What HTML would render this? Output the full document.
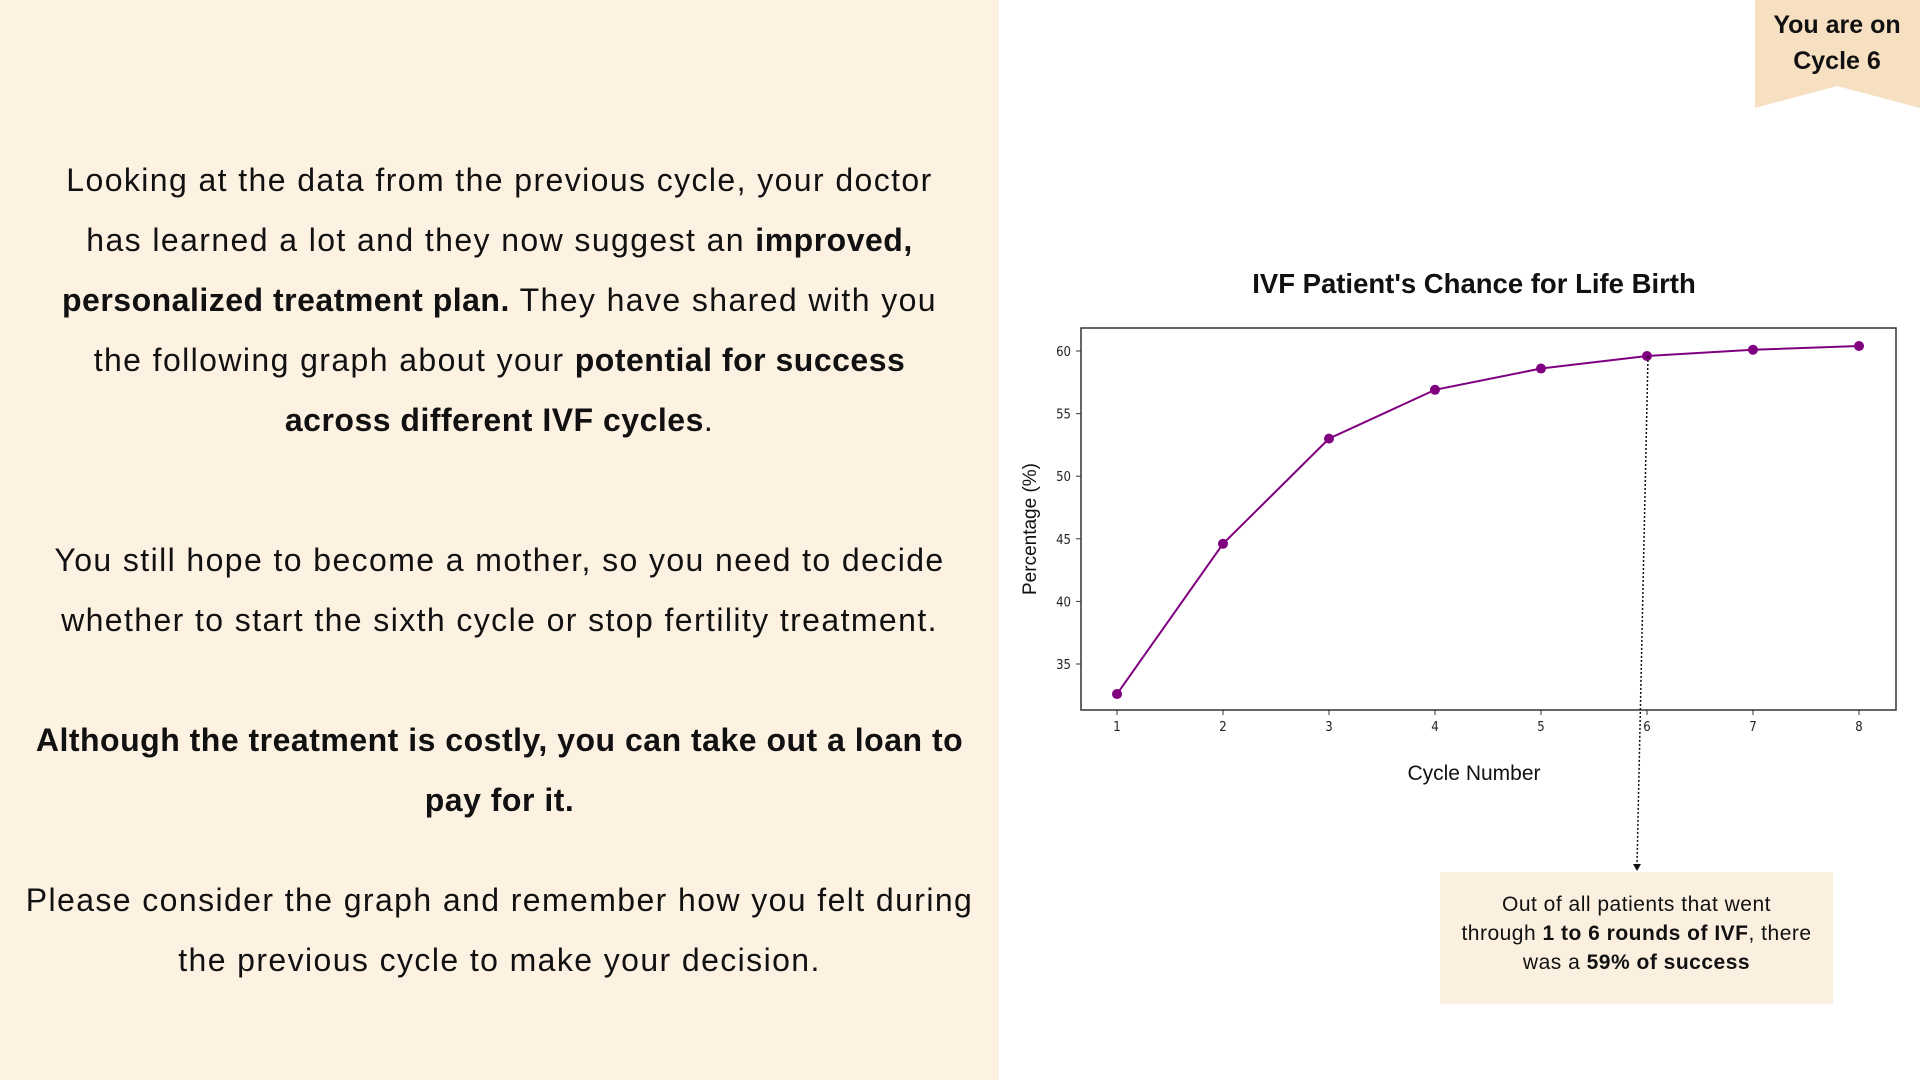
<!DOCTYPE html>
<html><head><meta charset="utf-8"><style>
body{margin:0;width:1920px;height:1080px;position:relative;overflow:hidden;background:#fff;font-family:"Liberation Sans",sans-serif;color:#111}
#left{position:absolute;left:0;top:0;width:999px;height:1080px;background:#fdf1e2}
.ln{position:absolute;left:0;width:999px;text-align:center;font-size:32px;line-height:40px;white-space:nowrap;letter-spacing:1.4px}
b{font-weight:bold;letter-spacing:0.5px}
</style></head><body>
<div id="left">
<div class="ln" style="top:160px">Looking at the data from the previous cycle, your doctor</div>
<div class="ln" style="top:220px">has learned a lot and they now suggest an <b>improved,</b></div>
<div class="ln" style="top:280px"><b>personalized treatment plan.</b> They have shared with you</div>
<div class="ln" style="top:340px">the following graph about your <b>potential for success</b></div>
<div class="ln" style="top:400px"><b>across different IVF cycles</b>.</div>
<div class="ln" style="top:540px">You still hope to become a mother, so you need to decide</div>
<div class="ln" style="top:600px">whether to start the sixth cycle or stop fertility treatment.</div>
<div class="ln" style="top:720px"><b>Although the treatment is costly, you can take out a loan to</b></div>
<div class="ln" style="top:780px"><b>pay for it.</b></div>
<div class="ln" style="top:880px">Please consider the graph and remember how you felt during</div>
<div class="ln" style="top:940px">the previous cycle to make your decision.</div>
</div>
<svg width="165" height="108" style="position:absolute;left:1755px;top:0">
<polygon points="0,0 165,0 165,108 82,86 0,108" fill="#f7e0c2"/>
<text x="82" y="33" text-anchor="middle" font-size="25" font-weight="bold" fill="#111" font-family="Liberation Sans">You are on</text>
<text x="82" y="69" text-anchor="middle" font-size="25" font-weight="bold" fill="#111" font-family="Liberation Sans">Cycle 6</text>
</svg>
<div style="position:absolute;left:1440px;top:872px;width:393px;height:132px;background:#fbefdf;text-align:center;font-size:21px;letter-spacing:0.5px;line-height:29px;padding-top:18px;box-sizing:border-box;white-space:nowrap">Out of all patients that went<br>through <b>1 to 6 rounds of IVF</b>, there<br>was a <b>59% of success</b></div>
<svg id="chart" width="1920" height="1080" style="position:absolute;left:0;top:0"></svg>
<script>
const cycles=[1,2,3,4,5,6,7,8];
const values=[32.6,44.6,53.0,56.9,58.6,59.6,60.1,60.4];
const yTicks=[35,40,45,50,55,60];
const highlight=6;
const NS="http://www.w3.org/2000/svg";
const svg=document.getElementById('chart');
const X=v=>1117+(v-1)*(1859-1117)/7;
const Y=v=>351+(60-v)*(664-351)/25;
function mk(t,a,p){const e=document.createElementNS(NS,t);for(const k in a)e.setAttribute(k,a[k]);(p||svg).appendChild(e);return e;}
let e;
e=mk('text',{x:1474,y:293,'text-anchor':'middle','font-size':27.5,'font-weight':'bold','font-family':'Liberation Sans',fill:'#111'});e.textContent="IVF Patient's Chance for Life Birth";


e=mk('rect',{x:1081,y:328,width:815,height:382,fill:'none',stroke:'#333','stroke-width':1.5});


yTicks.forEach(t=>{mk('line',{x1:1076,x2:1081,y1:Y(t),y2:Y(t),stroke:'#333'});
e=mk('text',{x:1071,y:Y(t)+5,'text-anchor':'end','font-size':13,'font-family':'DejaVu Sans Condensed, DejaVu Sans',fill:'#222'});e.textContent=t;

});
cycles.forEach(c=>{mk('line',{x1:X(c),x2:X(c),y1:710,y2:715,stroke:'#333'});
e=mk('text',{x:X(c),y:731,'text-anchor':'middle','font-size':13,'font-family':'DejaVu Sans Condensed, DejaVu Sans',fill:'#222'});e.textContent=c;

});
e=mk('text',{x:1474,y:780,'text-anchor':'middle','font-size':21,'font-family':'Liberation Sans',fill:'#111'});e.textContent='Cycle Number';


e=mk('text',{x:0,y:0,'text-anchor':'middle','font-size':19,'font-family':'Liberation Sans',fill:'#111',transform:'translate(1036,529) rotate(-90)'});e.textContent='Percentage (%)';


e=mk('polyline',{points:cycles.map((c,i)=>X(c)+','+Y(values[i])).join(' '),fill:'none',stroke:'#800080','stroke-width':2});


cycles.forEach((c,i)=>{e=mk('circle',{cx:X(c),cy:Y(values[i]),r:5,fill:'#800080'});

});
const hi=cycles.indexOf(highlight);
e=mk('line',{x1:X(highlight)+1,y1:Y(values[hi]),x2:X(highlight)-10,y2:866,stroke:'#111','stroke-width':1.5,'stroke-dasharray':'2,2'});


e=mk('polygon',{points:`${X(highlight)-14},864 ${X(highlight)-6},864 ${X(highlight)-10},871`,fill:'#111'});


</script>
</body></html>
